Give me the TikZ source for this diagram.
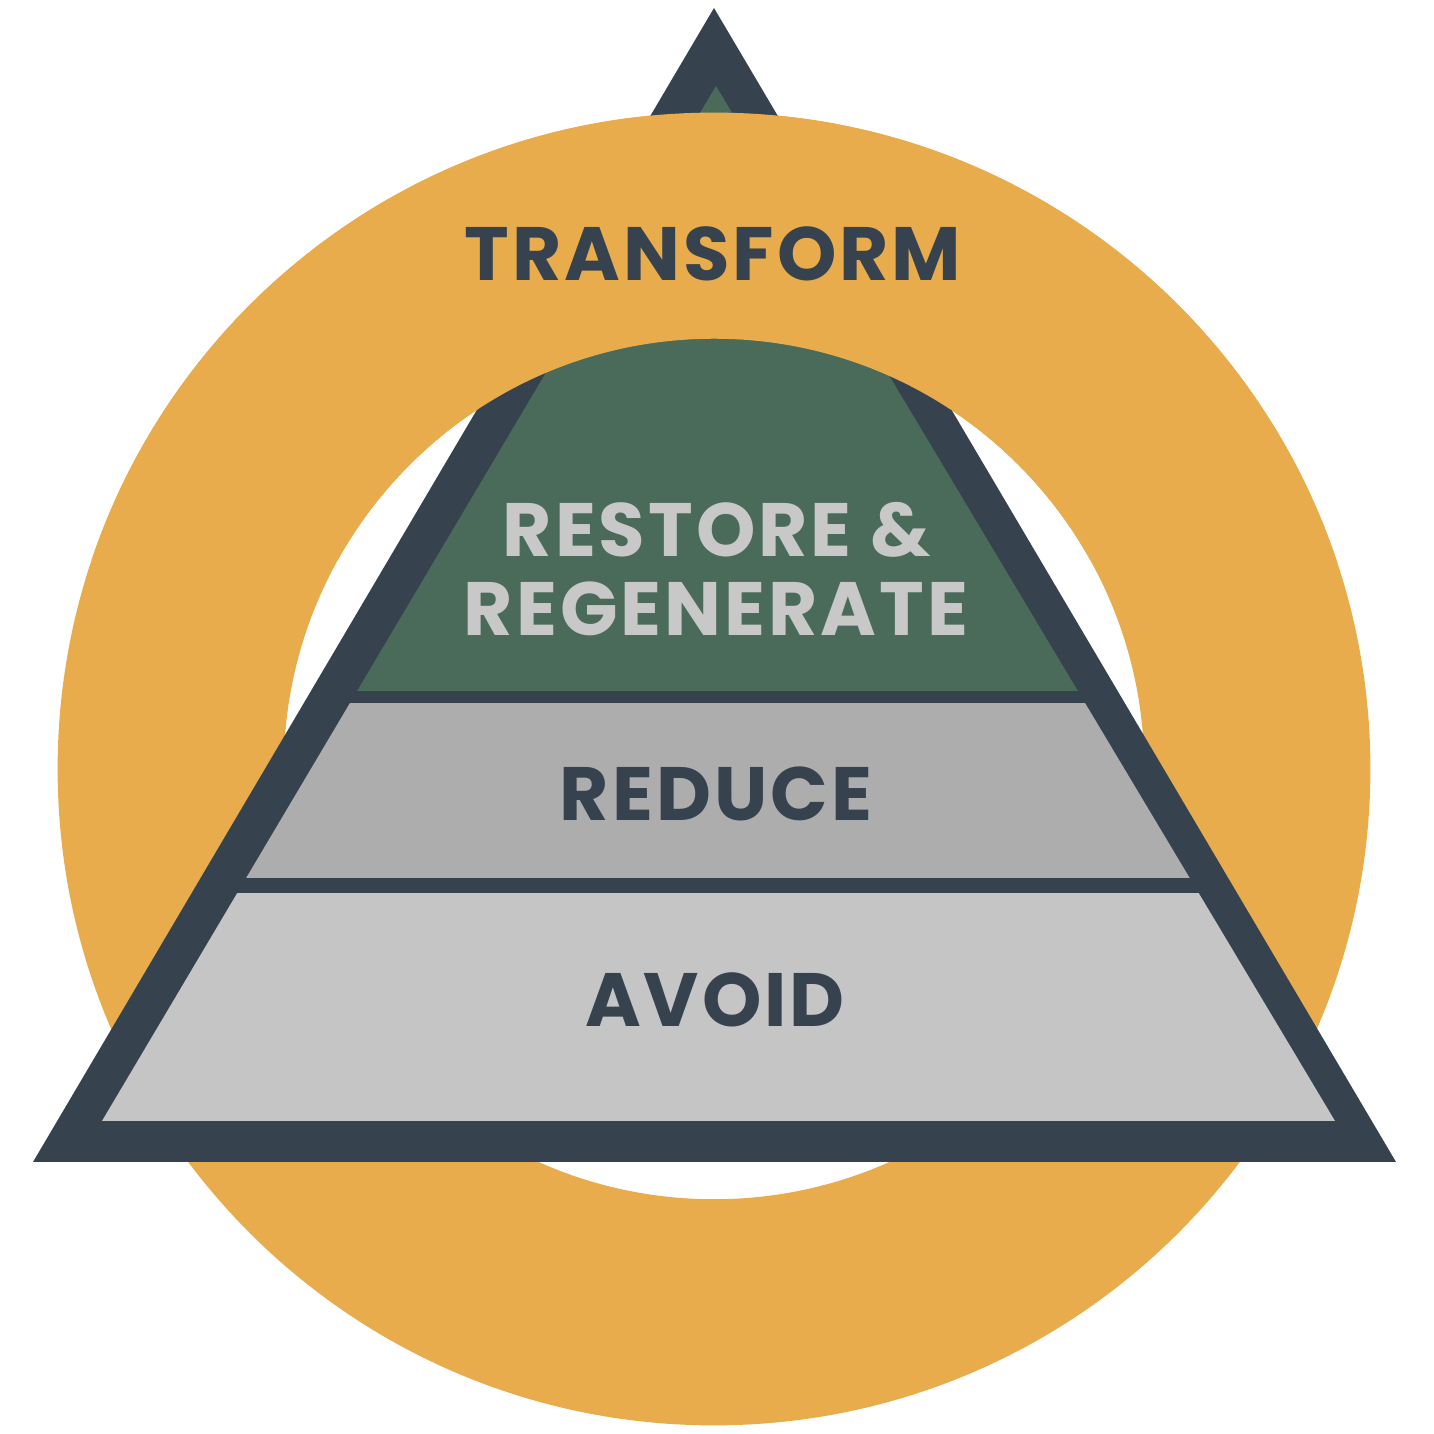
\documentclass[tikz,border=0pt]{standalone}
\usepackage{fontspec}
\setmainfont{Poppins}
\usetikzlibrary{positioning}
\definecolor{ringorange}{HTML}{E8AC4D}
\definecolor{slate}{HTML}{36434F}
\definecolor{forest}{HTML}{4A6B5A}
\definecolor{midgrey}{HTML}{ADADAD}
\definecolor{lightgrey}{HTML}{C5C5C5}
\definecolor{pale}{HTML}{C8C8C8}
\tikzstyle{ring} = [fill=ringorange, even odd rule]
\tikzstyle{word} = [inner sep=0pt, anchor=base, font=\fontsize{21.5}{24}\selectfont\bfseries\addfontfeatures{LetterSpace=4}]

\begin{document}
\begin{tikzpicture}[x=0.01cm, y=0.01cm]
	\useasboundingbox (0,0) rectangle (1434,1434);
	\coordinate (c) at (714,665);
	\coordinate (top) at (714,1426);
	\coordinate (bl) at (33,272);
	\coordinate (br) at (1396,272);
	
	\fill [ring] (c) circle [radius=6.56cm] (c) circle [radius=4.30cm];
	\fill [slate] (top) -- (bl) -- (br) -- cycle;
	\begin{scope}
		\clip (716,1348) -- (102,313) -- (1335,313) -- cycle;
		\fill [forest] (0,743) rectangle (1434,1434);
		\fill [midgrey] (0,556) rectangle (1434,731);
		\fill [lightgrey] (0,313) rectangle (1434,541);
	\end{scope}
	% ring goes over the top of the pyramid
	\begin{scope}
		\clip (0,874) rectangle (1434,1434);
		\fill [ring] (c) circle [radius=6.56cm] (c) circle [radius=4.30cm];
	\end{scope}
	
	\node (transform) [word, text=slate] at (713,1153) {TRANSFORM};
	\node (restore) [word, text=pale] at (717,877) {RESTORE \&};
	\node (regen) [word, text=pale] at (716,798) {REGENERATE};
	\node (reduce) [word, text=slate] at (716,613) {REDUCE};
	\node (avoid) [word, text=slate] at (715,407) {AVOID};
\end{tikzpicture}
\end{document}
